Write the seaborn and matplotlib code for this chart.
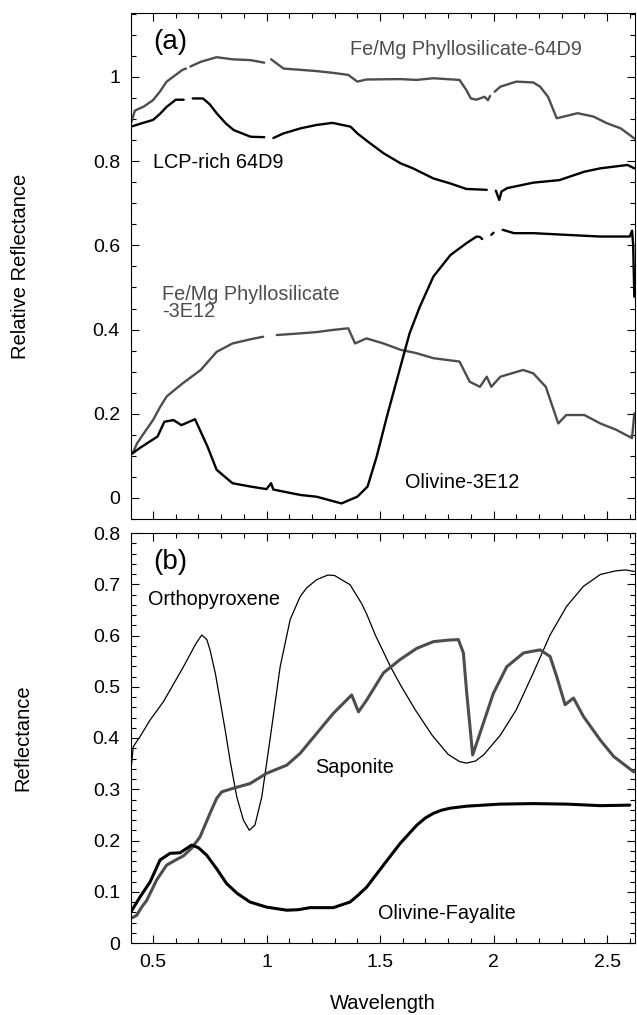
import numpy as np
import pandas as pd
import seaborn as sns
import matplotlib.pyplot as plt
from matplotlib.ticker import MultipleLocator, FuncFormatter

# -------------------------
# spectra (wavelength, reflectance); nan = gap in the record
# -------------------------
nan = np.nan

phyl64_x = [0.403, 0.42, 0.46, 0.50, 0.53, 0.56, 0.60, 0.63, 0.645, nan, 0.665, 0.71, 0.78, 0.85, 0.93,
            0.99, nan, 1.02, 1.05, 1.075, 1.15, 1.22, 1.29, 1.36, 1.40, 1.44, 1.59, 1.66, 1.735, 1.85,
            1.88, 1.90, 1.925, 1.96, 1.975, 1.985, nan, 2.005, 2.03, 2.10, 2.175, 2.205, 2.24, 2.278,
            2.31, 2.37, 2.44, 2.50, 2.56, 2.62]
phyl64_y = [0.89, 0.92, 0.93, 0.945, 0.965, 0.989, 1.005, 1.017, 1.02, nan, 1.025, 1.036, 1.047, 1.042, 1.040,
            1.034, nan, 1.042, 1.03, 1.02, 1.017, 1.014, 1.010, 1.005, 0.989, 0.994, 0.995, 0.993, 0.997, 0.993,
            0.969, 0.949, 0.946, 0.953, 0.945, 0.955, nan, 0.965, 0.977, 0.989, 0.987, 0.977, 0.953, 0.902,
            0.906, 0.914, 0.906, 0.890, 0.878, 0.854]

lcp64_x = [0.403, 0.45, 0.50, 0.53, 0.56, 0.60, 0.635, nan, 0.675, 0.72, 0.75, 0.78, 0.82, 0.855, 0.93,
           0.99, nan, 1.03, 1.075, 1.15, 1.22, 1.29, 1.37, 1.40, 1.45, 1.515, 1.59, 1.645, 1.735, 1.81,
           1.88, 1.97, nan, 2.01, 2.025, 2.035, 2.06, 2.175, 2.29, 2.40, 2.47, 2.59, 2.62]
lcp64_y = [0.882, 0.89, 0.898, 0.912, 0.929, 0.946, 0.946, nan, 0.949, 0.949, 0.935, 0.914, 0.89, 0.874, 0.858,
           0.857, nan, 0.855, 0.866, 0.878, 0.886, 0.891, 0.882, 0.866, 0.845, 0.819, 0.795, 0.783, 0.759, 0.747,
           0.734, 0.732, nan, 0.730, 0.708, 0.728, 0.736, 0.749, 0.755, 0.775, 0.783, 0.791, 0.783]

phyl3e_x = [0.41, 0.43, 0.46, 0.50, 0.53, 0.56, 0.58, 0.63, 0.71, 0.78, 0.85, 0.93, 0.985, nan, 1.045,
            1.15, 1.22, 1.29, 1.36, 1.39, 1.44, 1.515, 1.59, 1.66, 1.735, 1.85, 1.895, 1.94, 1.97, 1.99,
            2.03, 2.13, 2.175, 2.23, 2.285, 2.32, 2.40, 2.47, 2.54, 2.61, 2.62]
phyl3e_y = [0.106, 0.13, 0.154, 0.185, 0.215, 0.241, 0.25, 0.272, 0.304, 0.347, 0.367, 0.377, 0.383, nan, 0.387,
            0.391, 0.394, 0.399, 0.403, 0.367, 0.379, 0.367, 0.352, 0.344, 0.332, 0.324, 0.276, 0.264, 0.288, 0.264,
            0.288, 0.304, 0.296, 0.264, 0.177, 0.197, 0.197, 0.177, 0.162, 0.142, 0.201]

oliv3e_x = [0.41, 0.44, 0.52, 0.55, 0.59, 0.625, 0.685, 0.74, 0.78, 0.85, 0.93, 1.00, 1.02, 1.03, 1.075,
            1.15, 1.22, 1.33, 1.40, 1.445, 1.485, 1.53, 1.59, 1.63, 1.675, 1.735, 1.81, 1.88, 1.925, 1.94,
            1.95, nan, 1.99, 2.00, nan, 2.04, 2.09, 2.175, 2.32, 2.47, 2.60, 2.61, 2.615, 2.62]
oliv3e_y = [0.106, 0.118, 0.146, 0.181, 0.185, 0.173, 0.187, 0.122, 0.067, 0.035, 0.027, 0.021, 0.035, 0.02, 0.015,
            0.007, 0.003, -0.013, 0.003, 0.027, 0.098, 0.193, 0.312, 0.391, 0.454, 0.526, 0.577, 0.605, 0.621, 0.62,
            0.615, nan, 0.625, 0.63, nan, 0.637, 0.629, 0.629, 0.625, 0.621, 0.621, 0.635, 0.60, 0.478]

opx_x = [0.403, 0.413, 0.443, 0.487, 0.546, 0.634, 0.69, 0.715, 0.737, 0.751, 0.775, 0.795, 0.818, 0.839,
         0.869, 0.898, 0.924, 0.949, 0.979, 1.015, 1.06, 1.104, 1.148, 1.177, 1.221, 1.27, 1.30, 1.368,
         1.418, 1.441, 1.48, 1.515, 1.545, 1.588, 1.655, 1.73, 1.80, 1.85, 1.88, 1.92, 1.956, 2.029, 2.10,
         2.175, 2.249, 2.322, 2.396, 2.47, 2.537, 2.58, 2.62]
opx_y = [0.338, 0.383, 0.403, 0.435, 0.471, 0.539, 0.585, 0.601, 0.592, 0.572, 0.525, 0.474, 0.415, 0.357,
         0.285, 0.240, 0.220, 0.230, 0.285, 0.396, 0.539, 0.631, 0.676, 0.693, 0.709, 0.718, 0.717, 0.699,
         0.663, 0.642, 0.600, 0.568, 0.540, 0.505, 0.455, 0.405, 0.368, 0.354, 0.351, 0.355, 0.367, 0.405, 0.455,
         0.527, 0.601, 0.657, 0.696, 0.719, 0.726, 0.728, 0.725]

sap_x = [0.403, 0.428, 0.45, 0.472, 0.516, 0.56, 0.60, 0.634, 0.67, 0.707, 0.751, 0.78, 0.803, 0.854, 0.927,
         1.0, 1.089, 1.148, 1.221, 1.294, 1.375, 1.405, 1.441, 1.515, 1.588, 1.662, 1.735, 1.80, 1.845, 1.867,
         1.882, 1.908, 1.94, 1.999, 2.058, 2.132, 2.205, 2.249, 2.278, 2.315, 2.352, 2.396, 2.47, 2.529, 2.617]
sap_y = [0.048, 0.054, 0.07, 0.083, 0.123, 0.152, 0.162, 0.170, 0.185, 0.207, 0.253, 0.282, 0.295, 0.302, 0.311,
         0.331, 0.347, 0.370, 0.409, 0.448, 0.484, 0.451, 0.474, 0.527, 0.553, 0.575, 0.588, 0.591, 0.592, 0.566,
         0.487, 0.367, 0.409, 0.487, 0.539, 0.566, 0.572, 0.559, 0.520, 0.465, 0.478, 0.442, 0.396, 0.364, 0.334]

fay_x = [0.403, 0.443, 0.487, 0.531, 0.575, 0.619, 0.67, 0.70, 0.737, 0.78, 0.824, 0.87, 0.927, 1.0, 1.089,
         1.14, 1.192, 1.294, 1.368, 1.40, 1.441, 1.515, 1.588, 1.662, 1.70, 1.735, 1.77, 1.808, 1.882, 2.029,
         2.175, 2.322, 2.47, 2.60]
fay_y = [0.061, 0.090, 0.119, 0.162, 0.175, 0.176, 0.191, 0.186, 0.171, 0.145, 0.116, 0.097, 0.080, 0.070, 0.064,
         0.065, 0.069, 0.069, 0.080, 0.092, 0.109, 0.152, 0.194, 0.230, 0.244, 0.253, 0.259, 0.263, 0.267, 0.271,
         0.272, 0.271, 0.268, 0.269]

GRAY = "#4d4d4d"


def draw(ax, xs, ys, color, lw):
    df = pd.DataFrame({"x": xs, "y": ys})
    df["seg"] = df["y"].isna().cumsum()
    df = df.dropna()
    sns.lineplot(data=df, x="x", y="y", units="seg", estimator=None, color=color,
                 lw=lw, ax=ax, legend=False, sort=False)


sns.set_theme(style="ticks", rc={"text.color": "black", "axes.labelcolor": "black",
                                 "xtick.color": "black", "ytick.color": "black"})
plt.rcParams["font.family"] = ["Liberation Sans", "DejaVu Sans"]

fig = plt.figure(figsize=(6.37, 10.15), dpi=100)
W, H = 637, 1015
ax1 = fig.add_axes([131 / W, 1 - 519 / H, 504 / W, 506 / H])
ax2 = fig.add_axes([131 / W, 1 - 943 / H, 504 / W, 410 / H])

# panel (a)
draw(ax1, phyl64_x, phyl64_y, GRAY, 1.7)
draw(ax1, lcp64_x, lcp64_y, "black", 1.7)
draw(ax1, phyl3e_x, phyl3e_y, GRAY, 1.7)
draw(ax1, oliv3e_x, oliv3e_y, "black", 1.7)

# panel (b)
draw(ax2, opx_x, opx_y, "black", 0.9)
draw(ax2, sap_x, sap_y, GRAY, 2.2)
draw(ax2, fay_x, fay_y, "black", 2.2)

fs = 14.3
ax1.text(0.50, 1.083, "(a)", fontsize=20, va="center", color="black")
ax1.text(1.368, 1.066, "Fe/Mg Phyllosilicate-64D9", fontsize=fs, color=GRAY, va="center")
ax1.text(0.50, 0.798, "LCP-rich 64D9", fontsize=fs, va="center", color="black")
ax1.text(0.54, 0.463, "Fe/Mg Phyllosilicate\n-3E12", fontsize=fs, color=GRAY, va="center",
         linespacing=0.9)
ax1.text(1.61, 0.036, "Olivine-3E12", fontsize=fs, va="center", color="black")

ax2.text(0.50, 0.744, "(b)", fontsize=20, va="center", color="black")
ax2.text(0.478, 0.670, "Orthopyroxene", fontsize=fs, va="center", color="black")
ax2.text(1.214, 0.343, "Saponite", fontsize=fs, va="center", color="black")
ax2.text(1.493, 0.058, "Olivine-Fayalite", fontsize=fs, va="center", color="black")

fmt = FuncFormatter(lambda v, p: f"{v:g}")
for ax in (ax1, ax2):
    ax.set_xlim(0.403, 2.623)
    ax.xaxis.set_major_locator(MultipleLocator(0.5))
    ax.xaxis.set_minor_locator(MultipleLocator(0.1))
    ax.xaxis.set_major_formatter(fmt)
    ax.yaxis.set_major_formatter(fmt)
    ax.tick_params(which="both", direction="in", top=True, right=True, width=0.8,
                   labelsize=14, pad=8, colors="black")
    ax.tick_params(which="major", length=6)
    ax.tick_params(which="minor", length=3.5)
    for s in ax.spines.values():
        s.set_linewidth(0.8)
        s.set_color("black")

ax1.set_ylim(-0.05, 1.152)
ax1.yaxis.set_major_locator(MultipleLocator(0.2))
ax1.yaxis.set_minor_locator(MultipleLocator(0.05))
ax1.tick_params(labelbottom=False)
ax1.set_xlabel("")
ax1.set_ylabel("Relative Reflectance", fontsize=14.5, color="black")
ax1.yaxis.set_label_coords(-0.200, 0.5)

ax2.set_ylim(0, 0.8)
ax2.yaxis.set_major_locator(MultipleLocator(0.1))
ax2.yaxis.set_minor_locator(MultipleLocator(0.02))
ax2.set_ylabel("Reflectance", fontsize=14.5, color="black")
ax2.yaxis.set_label_coords(-0.195, 0.5)
ax2.set_xlabel("Wavelength", fontsize=14.5, color="black")
ax2.xaxis.set_label_coords(0.5, -0.125)

fig.savefig("out.png", dpi=100)
